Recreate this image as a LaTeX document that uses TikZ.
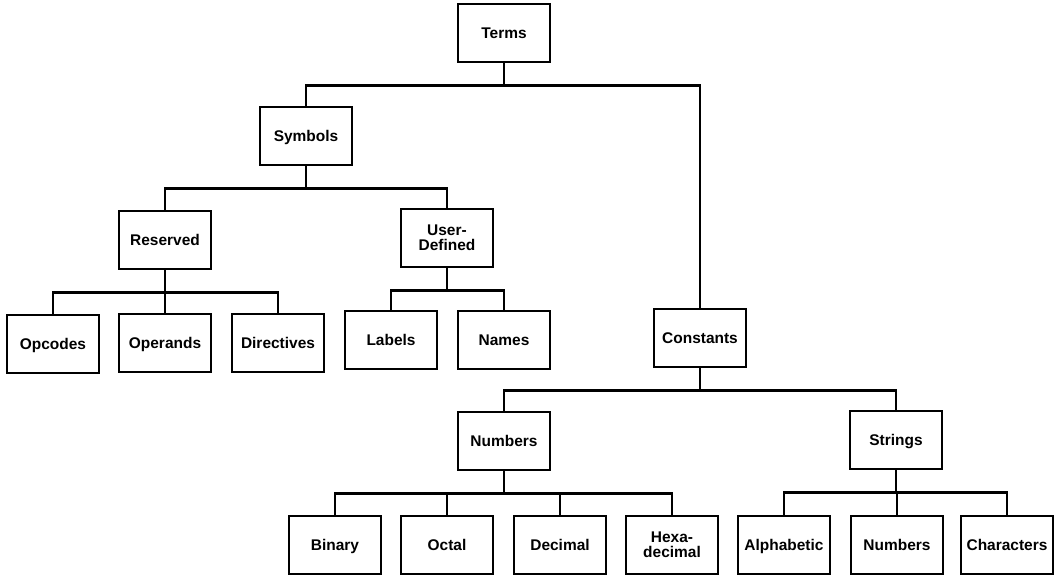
\documentclass[tikz,border=0pt]{standalone}
\usepackage{fontspec}
\setmainfont{Liberation Sans}
\usepackage{tikz}
\usetikzlibrary{calc}

\begin{document}
\begin{tikzpicture}[x=0.025cm, y=-0.025cm,
  box/.style={draw, line width=1.4pt, minimum width=2.3cm, minimum height=1.43cm,
    inner sep=0pt, align=center, text height=0.72em, text depth=0pt,
    font=\fontsize{11}{11}\selectfont\bfseries},
  twoline/.style={text height={}, text depth={}},
  conn/.style={line width=2.1pt, line join=miter},
  tree/.style={to path={(\tikztostart) -- ++(0,23) -| (\tikztotarget)}}]
\useasboundingbox (0,0) rectangle (1060,577);
% Root and first level
\node[box] (terms) at (504,33) {Terms};
\node[box] (symbols) at (306,136) {Symbols};
\node[box] (constants) at (700,338) {Constants};
% Symbols branch
\node[box] (reserved) at (165,240) {Reserved};
\node[box, twoline] (userdef) at (447,238) {User-\\Defined};
\node[box] (opcodes) at (53,344) {Opcodes};
\node[box] (operands) at (165,343) {Operands};
\node[box] (directives) at (278,343) {Directives};
\node[box] (labels) at (391,340) {Labels};
\node[box] (names) at (504,340) {Names};
% Constants branch
\node[box] (numbers) at (504,441) {Numbers};
\node[box] (strings) at (896,440) {Strings};
\node[box] (binary) at (335,545) {Binary};
\node[box] (octal) at (447,545) {Octal};
\node[box] (decimal) at (560,545) {Decimal};
\node[box, twoline] (hexa) at (672,545) {Hexa-\\decimal};
\node[box] (alpha) at (784,545) {Alphabetic};
\node[box] (strnum) at (897,545) {Numbers};
\node[box] (chars) at (1007,545) {Characters};
% Connectors
\foreach \p/\c in {terms/symbols, terms/constants,
    symbols/reserved, symbols/userdef,
    reserved/opcodes, reserved/operands, reserved/directives,
    userdef/labels, userdef/names,
    constants/numbers, constants/strings,
    numbers/binary, numbers/octal, numbers/decimal, numbers/hexa,
    strings/alpha, strings/strnum, strings/chars}
  \draw[conn] (\p.south) to[tree] (\c.north);
\end{tikzpicture}
\end{document}
